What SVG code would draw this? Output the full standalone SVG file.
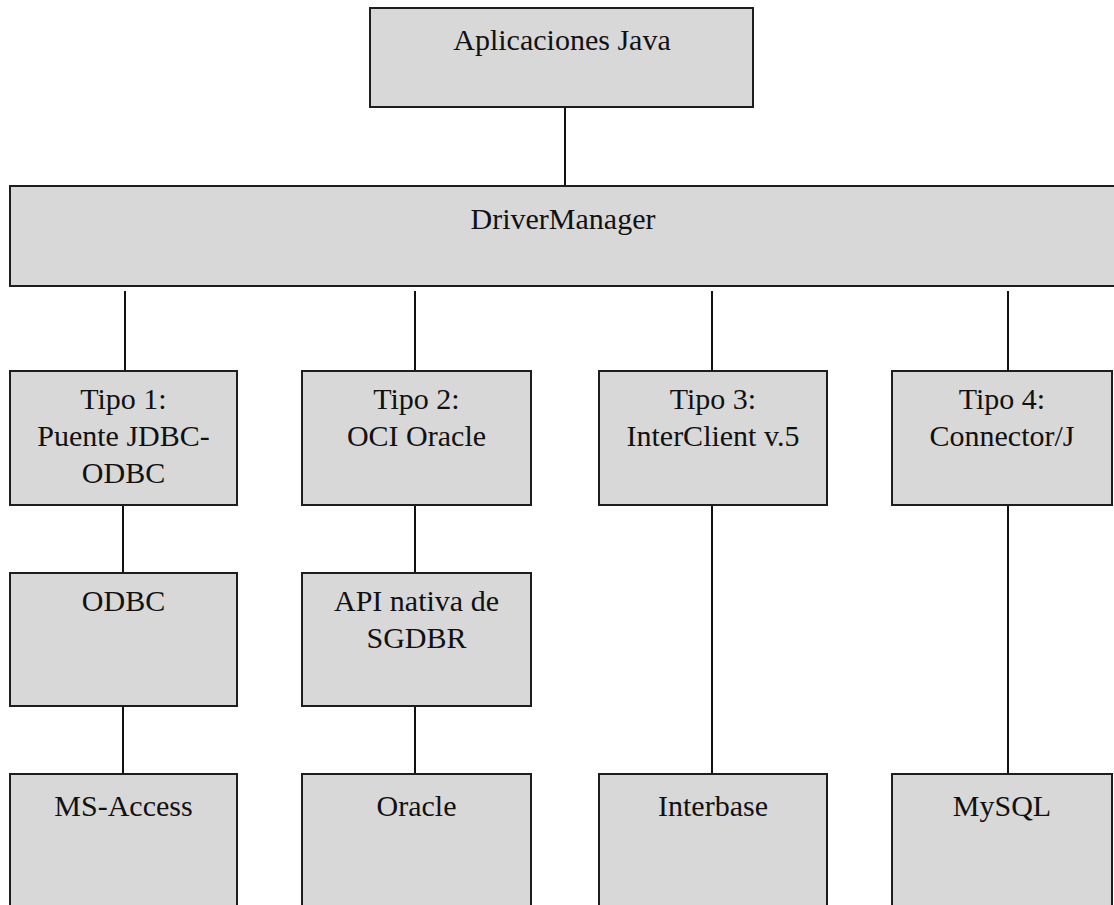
<svg xmlns="http://www.w3.org/2000/svg" width="1114" height="905" viewBox="0 0 1114 905">
  <style>
    .box { fill: #d8d8d8; stroke: #1e1e1e; stroke-width: 2; }
    .lbl { font-size: 30px; fill: #111; text-anchor: middle; }
    .conn { stroke: #111; stroke-width: 2; fill: none; }
  </style>
  <rect x="0" y="0" width="1114" height="905" fill="#ffffff"/>

  <g id="connectors">
    <line class="conn" x1="565" y1="107" x2="565" y2="186"/>
    <line class="conn" x1="125" y1="291" x2="125" y2="371"/>
    <line class="conn" x1="415" y1="291" x2="415" y2="371"/>
    <line class="conn" x1="712" y1="291" x2="712" y2="371"/>
    <line class="conn" x1="1008" y1="291" x2="1008" y2="371"/>
    <line class="conn" x1="123" y1="505" x2="123" y2="573"/>
    <line class="conn" x1="415" y1="505" x2="415" y2="573"/>
    <line class="conn" x1="123" y1="706" x2="123" y2="774"/>
    <line class="conn" x1="415" y1="706" x2="415" y2="774"/>
    <line class="conn" x1="712" y1="505" x2="712" y2="774"/>
    <line class="conn" x1="1008" y1="505" x2="1008" y2="774"/>
  </g>

  <g font-family="'Liberation Serif', 'Times New Roman', Times, serif">
  <g id="aplicaciones">
    <rect class="box" x="370" y="8" width="383" height="99"/>
    <text class="lbl" x="562" y="50">Aplicaciones Java</text>
  </g>

  <g id="drivermanager">
    <rect class="box" x="10" y="186" width="1120" height="100"/>
    <text class="lbl" x="563" y="229">DriverManager</text>
  </g>

  <g id="tipo1">
    <rect class="box" x="10" y="371" width="227" height="134"/>
    <text class="lbl" x="123.5" y="409">Tipo 1:</text>
    <text class="lbl" x="123.5" y="446">Puente JDBC-</text>
    <text class="lbl" x="123.5" y="483">ODBC</text>
  </g>

  <g id="tipo2">
    <rect class="box" x="302" y="371" width="229" height="134"/>
    <text class="lbl" x="416.5" y="409">Tipo 2:</text>
    <text class="lbl" x="416.5" y="446">OCI Oracle</text>
  </g>

  <g id="tipo3">
    <rect class="box" x="599" y="371" width="228" height="134"/>
    <text class="lbl" x="713" y="409">Tipo 3:</text>
    <text class="lbl" x="713" y="446">InterClient v.5</text>
  </g>

  <g id="tipo4">
    <rect class="box" x="892" y="371" width="220" height="134"/>
    <text class="lbl" x="1002" y="409">Tipo 4:</text>
    <text class="lbl" x="1002" y="446">Connector/J</text>
  </g>

  <g id="odbc">
    <rect class="box" x="10" y="573" width="227" height="133"/>
    <text class="lbl" x="123.5" y="611">ODBC</text>
  </g>

  <g id="api-nativa">
    <rect class="box" x="302" y="573" width="229" height="133"/>
    <text class="lbl" x="416.5" y="611">API nativa de</text>
    <text class="lbl" x="416.5" y="648">SGDBR</text>
  </g>

  <g id="ms-access">
    <rect class="box" x="10" y="774" width="227" height="150"/>
    <text class="lbl" x="123.5" y="816">MS-Access</text>
  </g>

  <g id="oracle">
    <rect class="box" x="302" y="774" width="229" height="150"/>
    <text class="lbl" x="416.5" y="816">Oracle</text>
  </g>

  <g id="interbase">
    <rect class="box" x="599" y="774" width="228" height="150"/>
    <text class="lbl" x="713" y="816">Interbase</text>
  </g>

  <g id="mysql">
    <rect class="box" x="892" y="774" width="220" height="150"/>
    <text class="lbl" x="1002" y="816">MySQL</text>
  </g>
  </g>
</svg>
